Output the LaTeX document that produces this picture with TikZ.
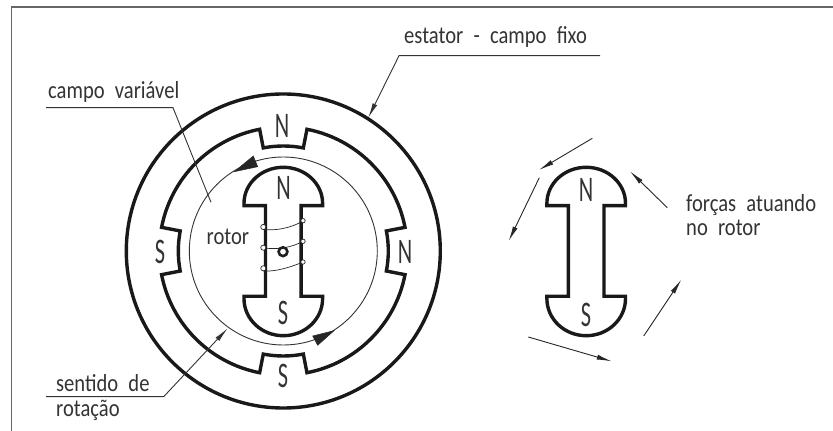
\documentclass[tikz,border=0pt]{standalone}
\usepackage{fontspec}
\setmainfont[FakeStretch=0.84,WordSpace=2.2]{Carlito}
\newfontfamily\polefont[FakeStretch=0.62]{Carlito}
\usetikzlibrary{arrows.meta}
\tikzset{
  x=1pt,y=1pt,
  thick line/.style={line width=3.4pt,line join=miter,black!90},
  thin line/.style={line width=0.9pt,black!80},
  hair line/.style={line width=0.7pt,black!85},
  frame line/.style={line width=1.3pt,black!60},
  leader/.style={line width=0.9pt,black!80},
  force/.style={line width=0.9pt,black!85,-{Latex[length=15pt,width=5pt]}},
  head/.style={fill=black!85,draw=black!85,line width=0.5pt},
  label/.style={anchor=base west,inner sep=0pt,font=\fontsize{24.5}{25}\selectfont,text=black!80},
  pole/.style={anchor=center,inner sep=0pt,font=\polefont\fontsize{36}{37}\selectfont,text=black!80},
  rotorshape/.pic={
    \draw[thick line]
      (-17.8,25.5) -- (-17.8,45.3) -- (-39.3,45.3) -- (-39.3,47.7)
      arc[start angle=180,end angle=0,x radius=39.3,y radius=36] -- (39.3,45.3) -- (17.8,45.3)
      -- (17.8,-45.3) -- (39.3,-45.3) -- (39.3,-47.7)
      arc[start angle=360,end angle=180,x radius=39.3,y radius=37] -- (-39.3,-45.3) -- (-17.8,-45.3)
      -- cycle;
  }
}
\begin{document}
\begin{tikzpicture}
\useasboundingbox (0,0) rectangle (833,431);
% frame
\coordinate (frameTL) at (11.5,424);
\draw[frame line] (11.5,0) -- (frameTL) -- (833,424);

% motor
\coordinate (M) at (283.3,180);
\begin{scope}[shift={(M)}]
  \draw[thick line] (0,0) circle[radius=157];
  \draw[thin line] (0,0) circle[radius=94];
  \draw[thick line]
    (79:124) arc[start angle=79,end angle=11,radius=124]
    -- (11:105) arc[start angle=11,end angle=-11,radius=105]
    -- (-11:124) arc[start angle=-11,end angle=-79,radius=124]
    -- (-79:105) arc[start angle=-79,end angle=-101,radius=105]
    -- (-101:124) arc[start angle=-101,end angle=-169,radius=124]
    -- (-169:105) arc[start angle=-169,end angle=-191,radius=105]
    -- (-191:124) arc[start angle=-191,end angle=-259,radius=124]
    -- (-259:105) arc[start angle=-259,end angle=-281,radius=105]
    -- cycle;
  \pic at (0,0) {rotorshape};
  % coil
  \draw[hair line] (-20,3.3) .. controls (-8,1) and (8,3) .. (19.7,9.8);
  \draw[hair line] (-20,21.5) .. controls (-8,20) and (8,23) .. (19.7,30);
  \draw[hair line] (-20,-20) .. controls (-8,-21) and (8,-16) .. (19.7,-11);
  \foreach \y in {24,3.3,-17.3}{\draw[hair line,fill=white] (-20,\y) circle[radius=2.6];}
  \foreach \y in {30.3,9.7,-11}{\draw[hair line,fill=white] (19.7,\y) circle[radius=2.2];}
  \draw[line width=2.6pt,black!88,fill=white] (-.3,-.7) circle[radius=4.4];
\end{scope}
% rotating arrows
\fill[head] (234.3,259.3) -- (253.3,275) -- (257.7,264.3) -- cycle;
\fill[head] (334,100.3) -- (312.7,95) -- (317.7,85.7) -- cycle;

% right rotor
\pic at (586.2,180) {rotorshape};

% pole letters
\node[pole] (pN1) at (282,305) {N};
\node[pole] (pN2) at (283.5,242.7) {N};
\node[pole] (pN3) at (405,179) {N};
\node[pole] (pS1) at (160,179) {S};
\node[pole] (pS2) at (283,118) {S};
\node[pole] (pS3) at (283,55) {S};
\node[pole] (pN4) at (586,241) {N};
\node[pole] (pS4) at (586,116) {S};

% labels
\node[label] (rotor) at (206.5,186.7) {rotor};
\node[label] (estator) at (404,387.7) {estator - campo fixo};
\node[label] (campo) at (48,332.8) {campo variável};
\node[label] (sentido) at (56,39.3) {sentido de};
\node[label] (rotacao) at (56,14.3) {rotação};
\node[label] (forcas) at (686,219.3) {forças atuando};
\node[label] (norotor) at (686,195.3) {no rotor};

% leaders
\coordinate (eA) at (600,375.3);
\coordinate (eB) at (399,375.3);
\coordinate (eC) at (368.3,313.3);
\draw[leader,-{Latex[length=15pt,width=5pt]}] (eA) -- (eB) -- (eC);
\coordinate (cA) at (46,323.3);
\coordinate (cB) at (173,323.3);
\coordinate (cC) at (211,228.7);
\draw[leader] (cA) -- (cB) -- (cC);
\coordinate (sA) at (46,34.3);
\coordinate (sB) at (163.7,34.3);
\coordinate (sC) at (227.7,102.7);
\draw[leader,-{Latex[length=15pt,width=5pt]}] (sA) -- (sB) -- (sC);

% forces
\coordinate (f1a) at (592.3,292.7); \coordinate (f1b) at (539,261);
\coordinate (f2a) at (539.3,253.3); \coordinate (f2b) at (508.7,190);
\coordinate (f3a) at (667.3,223.3); \coordinate (f3b) at (630,259.7);
\coordinate (f4a) at (643.7,95);    \coordinate (f4b) at (681.3,151.3);
\coordinate (f5a) at (528.3,94);    \coordinate (f5b) at (611.7,69.7);
\foreach \i in {1,...,5}{\draw[force] (f\i a) -- (f\i b);}
\end{tikzpicture}
\end{document}
